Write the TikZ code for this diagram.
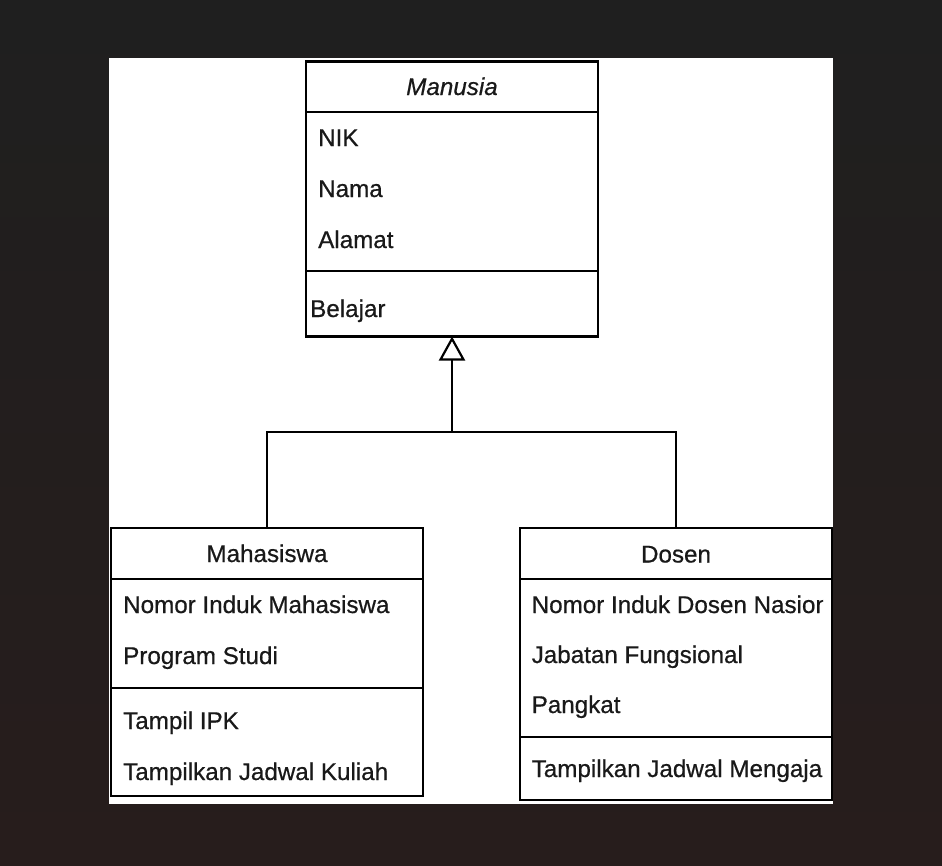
\documentclass[tikz,border=0pt]{standalone}
\usepackage{fontspec}
\setmainfont{Liberation Sans}[FakeBold=0.6]
\usetikzlibrary{arrows.meta}
\definecolor{bgtop}{HTML}{1F1F1F}
\definecolor{bgbot}{HTML}{271D1C}
\tikzset{
  classbox/.style={draw, line width=2.2pt, anchor=north west, inner sep=0pt, outer sep=0pt},
  sepline/.style={line width=2.2pt},
  member/.style={anchor=base west, inner sep=0pt, text=black!90, font=\fontsize{24.2}{29}\selectfont},
  classname/.style={anchor=base, inner sep=0pt, text=black!90, font=\fontsize{24.2}{29}\selectfont},
  inherit/.style={-{Triangle[open, width=26pt, length=24pt]}, line width=2.2pt},
}
\begin{document}
\begin{tikzpicture}[x=1pt, y=-1pt]

  \shade[top color=bgtop, bottom color=bgbot] (0,0) rectangle (942,865);
  \useasboundingbox (0,0) rectangle (942,865);
  \fill[white] (109,58) rectangle (833,804);

  % Manusia
  \node[classbox, minimum width=292pt, minimum height=275pt] (manusia) at (306,61.5) {};
  \draw[sepline] (306,112) -- (598,112);
  \draw[sepline] (306,271) -- (598,271);
  \node[classname] (manusiaN) at (452,95) {\itshape Manusia};
  \node[member] (nik) at (318,146) {NIK};
  \node[member] (nama) at (318,197) {Nama};
  \node[member] (alamat) at (318,248) {Alamat};
  \node[member] (belajar) at (310,317) {Belajar};

  % Mahasiswa
  \node[classbox, minimum width=312pt, minimum height=268pt] (mahasiswa) at (111,528) {};
  \draw[sepline] (111,579) -- (423,579);
  \draw[sepline] (111,688) -- (423,688);
  \node[classname] (mahasiswaN) at (267,562) {Mahasiswa};
  \node[member] (nim) at (123,613) {Nomor Induk Mahasiswa};
  \node[member] (prodi) at (123,664) {Program Studi};
  \node[member] (ipk) at (123,729) {Tampil IPK};
  \node[member] (kuliah) at (123,780) {Tampilkan Jadwal Kuliah};

  % Dosen
  \node[classbox, minimum width=312pt, minimum height=272pt] (dosen) at (520,528) {};
  \draw[sepline] (520,579) -- (832,579);
  \draw[sepline] (520,737) -- (832,737);
  \node[classname] (dosenN) at (676,562.5) {Dosen};
  \begin{scope}
    \clip (520,580) rectangle (823,799);
    \node[member] (nidn) at (531.5,613) {Nomor Induk Dosen Nasional};
    \node[member] (jabatan) at (531.5,663) {Jabatan Fungsional};
    \node[member] (pangkat) at (531.5,713) {Pangkat};
    \node[member] (mengajar) at (531.5,777) {Tampilkan Jadwal Mengajar};
  \end{scope}

  % generalisation
  \coordinate (join) at (452,432);
  \draw[sepline] (mahasiswa.north) |- (join) -| (dosen.north);
  \draw[inherit] (join) -- (manusia.south);

\end{tikzpicture}
\end{document}
